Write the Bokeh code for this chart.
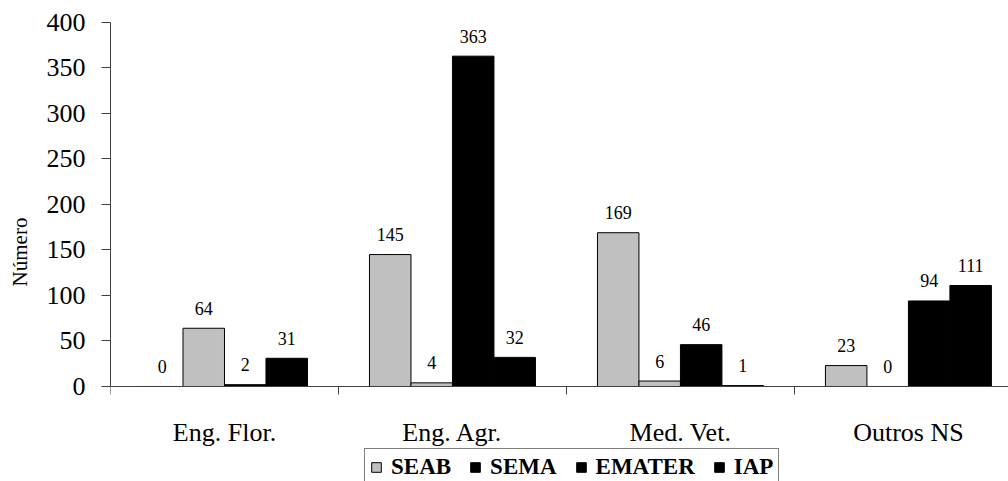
import numpy as np
from bokeh.plotting import figure
from bokeh.models import (ColumnDataSource, Range1d, FixedTicker, LabelSet,
                          Legend, LegendItem)
from bokeh.embed import file_html
from bokeh.resources import INLINE

categories = ["Eng. Flor.", "Eng. Agr.", "Med. Vet.", "Outros NS"]
series = ["SEAB", "SEMA", "EMATER", "IAP"]
seab = [0, 145, 169, 23]
sema = [64, 4, 6, 0]
emater = [2, 363, 46, 94]
iap = [31, 32, 1, 111]
y_ticks = [0, 50, 100, 150, 200, 250, 300, 350, 400]

values = [seab, sema, emater, iap]
bar_colors = ["#C0C0C0", "#C0C0C0", "#000000", "#000000"]

FONT = "Liberation Serif"
bar_w = 0.182
offsets = [-1.5 * bar_w, -0.5 * bar_w, 0.5 * bar_w, 1.5 * bar_w]
centers = np.arange(len(categories)) + 0.5

# frame runs down to the canvas bottom so that the legend can sit under the axis
p = figure(frame_width=898, frame_height=459, x_range=Range1d(0, 3.939),
           y_range=Range1d(-104.4, 400),
           output_backend="svg", toolbar_location=None,
           min_border_left=110, min_border_top=22, min_border_right=0, min_border_bottom=0)
p.outline_line_color = None
p.xgrid.grid_line_color = None
p.ygrid.grid_line_color = None
p.background_fill_color = "white"
p.border_fill_color = "white"

bar_renderers = []
for name, vals, col, off in zip(series, values, bar_colors, offsets):
    src = ColumnDataSource(dict(x=centers + off, top=vals, lab=[str(v) for v in vals]))
    r = p.vbar(x="x", top="top", width=bar_w, bottom=0, source=src,
               fill_color=col, line_color="black", line_width=1)
    bar_renderers.append(r)
    lbl = LabelSet(x="x", y="top", text="lab", source=src, y_offset=20,
                   text_align="center", text_baseline="middle",
                   text_font=FONT, text_font_size="18px", text_color="black")
    p.add_layout(lbl)

# legend as drawn in the original: SEAB grey, the other three black
legend_renderers = [bar_renderers[0], bar_renderers[2], bar_renderers[2], bar_renderers[3]]

legend = Legend(items=[LegendItem(label=n, renderers=[r]) for n, r in zip(series, legend_renderers)],
                orientation="horizontal", location=(254, -5),
                border_line_color="black", border_line_width=1,
                background_fill_color="white", background_fill_alpha=1,
                padding=5, spacing=18, label_standoff=9, margin=0,
                glyph_width=12, glyph_height=12,
                label_text_font=FONT, label_text_font_style="bold",
                label_text_font_size="23px", label_height=22,
                label_text_color="black")
p.add_layout(legend, "center")

# x axis, drawn at y = 0
xa = p.xaxis[0]
xa.fixed_location = 0
xa.ticker = FixedTicker(ticks=list(centers), minor_ticks=list(range(len(categories) + 1)))
xa.major_label_overrides = {float(c): lab for c, lab in zip(centers, categories)}
xa.major_tick_out = 0
xa.major_tick_in = 0
xa.minor_tick_out = 8
xa.minor_tick_in = 0
xa.minor_tick_line_color = "#404040"
xa.axis_line_color = "#404040"
xa.major_label_standoff = 24
xa.major_label_text_font = FONT
xa.major_label_text_font_size = "26px"
xa.major_label_text_color = "black"

# y axis
ya = p.yaxis[0]
ya.bounds = (0, 400)
ya.ticker = FixedTicker(ticks=y_ticks)
ya.major_tick_out = 9
ya.major_tick_in = 0
ya.minor_tick_out = 0
ya.minor_tick_in = 0
ya.major_tick_line_color = "#404040"
ya.axis_line_color = "#404040"
ya.major_label_standoff = 16
ya.major_label_text_font = FONT
ya.major_label_text_font_size = "26px"
ya.major_label_text_color = "black"
ya.axis_label = "Número"
ya.axis_label_text_font = FONT
ya.axis_label_text_font_size = "21px"
ya.axis_label_text_font_style = "normal"
ya.axis_label_text_color = "black"
ya.axis_label_standoff = 12

open("out.html", "w").write(file_html(p, INLINE))
